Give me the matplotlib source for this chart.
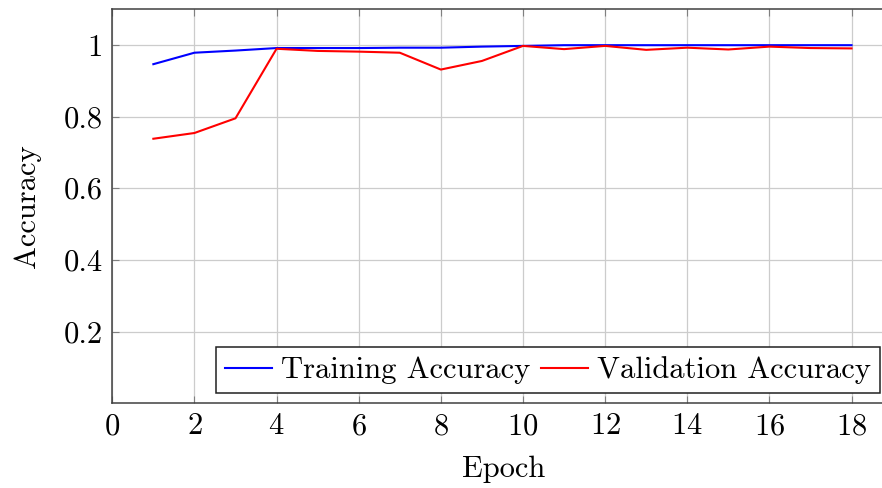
import matplotlib
matplotlib.use("Agg")
import matplotlib.pyplot as plt

# Data
epochs = [1, 2, 3, 4, 5, 6, 7, 8, 9, 10, 11, 12, 13, 14, 15, 16, 17, 18]
train_acc = [0.946, 0.978, 0.984, 0.991, 0.991, 0.991, 0.992, 0.992, 0.995, 0.997,
             0.999, 0.999, 0.999, 0.999, 0.999, 0.999, 0.999, 0.999]
val_acc = [0.738, 0.754, 0.795, 0.989, 0.983, 0.981, 0.978, 0.931, 0.955, 0.997,
           0.988, 0.997, 0.986, 0.992, 0.987, 0.995, 0.991, 0.990]

x_ticks = [0, 2, 4, 6, 8, 10, 12, 14, 16, 18]
y_ticks = [0.2, 0.4, 0.6, 0.8, 1.0]
y_tick_labels = ["0.2", "0.4", "0.6", "0.8", "1"]

plt.rcParams["font.family"] = ["cmr10", "DejaVu Serif"]
plt.rcParams["mathtext.fontset"] = "cm"
plt.rcParams["axes.formatter.use_mathtext"] = True

fs = 22

fig = plt.figure(figsize=(8.82, 4.88), dpi=100)
ax = fig.add_axes([0.1273, 0.1736, 0.8866, 0.808])

ax.plot(epochs, train_acc, color="blue", lw=1.5, label="Training Accuracy")
ax.plot(epochs, val_acc, color="red", lw=1.5, label="Validation Accuracy")

ax.set_xlim(0, 19.04)
ax.set_ylim(0, 1.1)
ax.set_xticks(x_ticks)
ax.set_yticks(y_ticks)
ax.set_yticklabels(y_tick_labels)
ax.tick_params(direction="in", length=5, width=0.8, color="#808080",
               labelsize=fs, top=True, right=True, pad=7)
ax.grid(True, color="#cccccc", lw=0.9)
ax.set_axisbelow(True)
for s in ax.spines.values():
    s.set_color("#404040")
    s.set_linewidth(1.1)

ax.set_xlabel("Epoch", fontsize=fs, labelpad=11)
ax.set_ylabel("Accuracy", fontsize=fs, labelpad=16)

leg = ax.legend(loc="lower right", bbox_to_anchor=(0.9817, 0.025), ncol=2,
                fontsize=fs, frameon=True, fancybox=False, borderaxespad=0,
                handlelength=1.55, handletextpad=0.28, columnspacing=0.35,
                borderpad=0.3)
leg.get_frame().set_edgecolor("#202020")
leg.get_frame().set_linewidth(1.1)
leg.get_frame().set_alpha(1)

fig.savefig("out.png", dpi=100)
